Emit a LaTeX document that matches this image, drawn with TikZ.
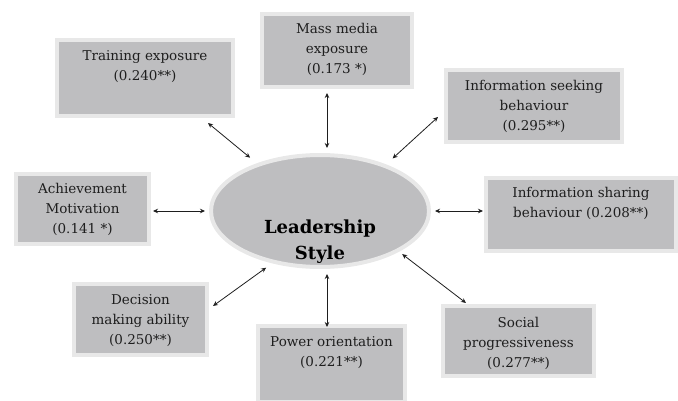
\documentclass[tikz,border=0pt]{standalone}
\usepackage{fontspec}
\setmainfont{DejaVu Serif}
\usetikzlibrary{arrows.meta}
\usetikzlibrary{shapes.geometric}

\definecolor{boxgray}{RGB}{190,190,192}
\definecolor{rimgray}{RGB}{232,232,232}
\definecolor{ink}{RGB}{30,30,30}

\begin{document}
\begin{tikzpicture}[x=1pt,y=-1pt,
    factor/.style={rectangle, draw=rimgray, line width=4pt, fill=boxgray, inner sep=0pt, outer sep=0pt},
    caption/.style={anchor=north, align=center, text=ink, inner sep=0pt,
      font=\fontsize{13.5}{20}\selectfont},
    link/.style={{Stealth[length=5pt,width=4.5pt]}-{Stealth[length=5pt,width=4.5pt]},
      line width=0.8pt, draw=ink}]
  \useasboundingbox (0,0) rectangle (678,401);

  % centre
  \node[ellipse, draw=rimgray, line width=4pt, fill=boxgray, inner sep=0pt, outer sep=0pt,
    minimum width=218pt, minimum height=112pt] (ls) at (320,211) {};
  \node[font=\bfseries\fontsize{18}{26}\selectfont, align=center, inner sep=0pt]
    (ls-t) at ([yshift=-31pt]ls.center) {Leadership\\Style};

  % the eight factors
  \node[factor, minimum width=176pt, minimum height=76pt] (train) at (145,78) {};
  \node[caption] (train-t) at ([yshift=-10pt]train.north) {Training exposure\\(0.240**)};

  \node[factor, minimum width=150pt, minimum height=73pt] (mm) at (337,50.5) {};
  \node[caption] (mm-t) at ([yshift=-9pt]mm.north) {Mass media\\exposure\\(0.173 *)};

  \node[factor, minimum width=176pt, minimum height=72pt] (seek) at (534,106) {};
  \node[caption] (seek-t) at ([yshift=-10pt]seek.north) {Information seeking\\behaviour\\(0.295**)};

  \node[factor, minimum width=190pt, minimum height=73pt] (share) at (581,214.5) {};
  \node[caption] (share-t) at ([yshift=-9pt]share.north) {Information sharing\\behaviour (0.208**)};

  \node[factor, minimum width=133pt, minimum height=70pt] (ach) at (82.5,209) {};
  \node[caption] (ach-t) at ([yshift=-9pt]ach.north) {Achievement\\Motivation\\(0.141 *)};

  \node[factor, minimum width=133pt, minimum height=71pt] (dec) at (140.5,319.5) {};
  \node[caption] (dec-t) at ([yshift=-10pt]dec.north) {Decision\\making ability\\(0.250**)};

  \node[factor, minimum width=147pt, minimum height=76pt] (pow) at (331.5,364) {};
  \node[caption] (pow-t) at ([yshift=-10pt]pow.north) {Power orientation\\(0.221**)};

  \node[factor, minimum width=151pt, minimum height=70pt] (soc) at (518.5,341) {};
  \node[caption] (soc-t) at ([yshift=-11pt]soc.north) {Social\\progressiveness\\(0.277**)};

  % arrow ends on the factor side
  \coordinate (c-train) at (208,123);
  \coordinate (c-mm) at (327,93);
  \coordinate (c-seek) at (438,117);
  \coordinate (c-ach) at (153,211);
  \coordinate (c-share) at (483,211);
  \coordinate (c-dec) at (213,306);
  \coordinate (c-pow) at (327,327);
  \coordinate (c-soc) at (466,303);

  \draw[link, shorten >=11pt] (c-train) -- (ls.143);
  \draw[link, shorten >=7pt] (c-mm) -- (c-mm |- ls.north);
  \draw[link, shorten >=11pt] (c-seek) -- (ls.35);
  \draw[link, shorten >=6pt] (c-ach) -- (ls.west);
  \draw[link, shorten >=6pt] (c-share) -- (ls.east);
  \draw[link, shorten >=10pt] (c-dec) -- (ls.228);
  \draw[link, shorten >=7pt] (c-pow) -- (c-pow |- ls.south);
  \draw[link, shorten >=6pt] (c-soc) -- (ls.333);
\end{tikzpicture}
\end{document}
